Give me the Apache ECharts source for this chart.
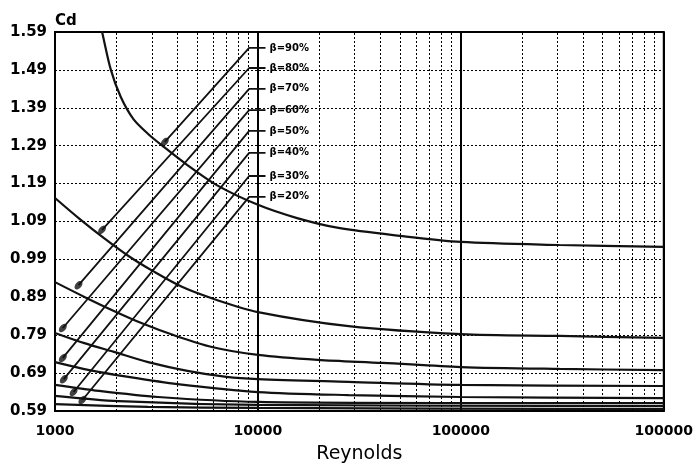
<!DOCTYPE html>
<html><head><meta charset="utf-8">
<script src="https://cdn.jsdelivr.net/npm/echarts@6/dist/echarts.min.js"></script>
<style>html,body{margin:0;padding:0;background:#fff}#c{width:696px;height:470px}</style>
</head><body><div id="c"></div>
<script>
// ---- axis ticks ----
const xTickValues = [1000, 10000, 100000, 1000000];
const xTickLabels = ['1000', '10000', '100000', '100000'];
const yTickLabels = ['0.59','0.69','0.79','0.89','0.99','1.09','1.19','1.29','1.39','1.49','1.59'];
const betaLabels = ['β=90%','β=80%','β=70%','β=60%','β=50%','β=40%','β=30%','β=20%'];

// ---- Cd curves (Reynolds, Cd) ----
const re90 = [1650, 1706, 1885, 2107, 2435, 2877, 3399, 4489, 6268, 10000, 15600, 24950, 50200, 100000, 306000, 1000000];
const cd90 = [1.62, 1.59, 1.49, 1.419, 1.360, 1.321, 1.289, 1.239, 1.186, 1.134, 1.099, 1.073, 1.052, 1.036, 1.028, 1.023];
const re80 = [1000, 1321, 1744, 2302, 3043, 4247, 6268, 10000, 28000, 100000, 306000, 1000000];
const cd80 = [1.152, 1.097, 1.046, 0.999, 0.959, 0.917, 0.883, 0.851, 0.814, 0.793, 0.788, 0.783];
const re70 = [1000, 1396, 1950, 2722, 3802, 5930, 10000, 19700, 41100, 100000, 306000, 1000000];
const cd70 = [0.930, 0.891, 0.854, 0.820, 0.791, 0.759, 0.738, 0.725, 0.717, 0.706, 0.701, 0.698];
const re60 = [1000, 1396, 1950, 2877, 4489, 7000, 10000, 28000, 100000, 1000000];
const cd60 = [0.796, 0.769, 0.746, 0.719, 0.696, 0.680, 0.674, 0.667, 0.659, 0.656];
const re50 = [1000, 1476, 2302, 4015, 10000, 28000, 100000, 1000000];
const cd50 = [0.719, 0.698, 0.680, 0.661, 0.640, 0.632, 0.627, 0.624];
const re40 = [1000, 1649, 3215, 10000, 100000, 1000000];
const cd40 = [0.659, 0.643, 0.627, 0.614, 0.611, 0.611];
const re30 = [1000, 2061, 10000, 1000000];
const cd30 = [0.630, 0.616, 0.606, 0.603];
const re20 = [1000, 2877, 10000, 1000000];
const cd20 = [0.608, 0.601, 0.598, 0.595];

// ---- beta guide lines ----
const guideStartRe = [3476, 1706, 1306, 1093, 1093, 1105, 1235, 1365];
const guideStartCd = [1.300, 1.068, 0.922, 0.809, 0.730, 0.674, 0.640, 0.619];
const guideKneeRe = 9050;
const guideEndRe = 10900;
const guideKneeCd = [1.548, 1.495, 1.440, 1.384, 1.329, 1.271, 1.210, 1.155];

const curves = [[re90,cd90],[re80,cd80],[re70,cd70],[re60,cd60],[re50,cd50],[re40,cd40],[re30,cd30],[re20,cd20]];

const minorRe = [];
[1000, 10000, 100000].forEach(d => { for (let k = 2; k <= 9; k++) minorRe.push(d * k); });

const FONT = 'DejaVu Sans';
const series = [];
curves.forEach((c, i) => {
  const s = {
    type: 'line', name: 'curve' + i, symbol: 'none', smooth: 0.3,
    lineStyle: { color: '#111', width: 2.2 }, clip: true,
    data: c[0].map((r, j) => [r, c[1][j]]), z: 3
  };
  if (i === 0) {
    s.markLine = {
      silent: true, symbol: ['none', 'none'], label: { show: false },
      lineStyle: { type: [2, 2], color: '#000', width: 1 },
      data: minorRe.map(v => ({ xAxis: v })), animation: false
    };
  }
  series.push(s);
});
guideKneeCd.forEach((kc, i) => {
  series.push({
    type: 'line', symbol: 'none', lineStyle: { color: '#111', width: 1.8 }, z: 4,
    data: [[guideStartRe[i], guideStartCd[i]], [guideKneeRe, kc], [guideEndRe, kc]],
    endLabel: { show: true, formatter: betaLabels[i], distance: 4, fontFamily: FONT, fontSize: 10, fontWeight: 'bold', color: '#000' }
  });
});
series.push({
  type: 'scatter', symbol: 'circle', symbolSize: [6, 10], symbolRotate: 139, z: 5,
  itemStyle: { color: '#111' },
  data: guideStartRe.map((r, i) => [r, guideStartCd[i]])
});

const chart = echarts.init(document.getElementById('c'));
chart.setOption({
  animation: false,
  backgroundColor: '#fff',
  grid: { left: 55, right: 29, top: 32, bottom: 59, show: true, borderColor: '#000', borderWidth: 2 },
  xAxis: {
    type: 'log', logBase: 10, min: 1000, max: 1000000,
    axisLine: { show: true, lineStyle: { color: '#000', width: 2 } },
    axisTick: { show: false },
    axisLabel: {
      margin: 13, fontFamily: FONT, fontSize: 14, fontWeight: 'bold', color: '#000',
      formatter: v => { const idx = xTickValues.findIndex(t => Math.abs(Math.log10(t) - Math.log10(v)) < 1e-6); return idx >= 0 ? xTickLabels[idx] : ''; }
    },
    splitLine: { show: true, lineStyle: { color: '#000', width: 2 } },
    name: 'Reynolds', nameLocation: 'middle', nameGap: 34,
    nameTextStyle: { fontFamily: FONT, fontSize: 19, color: '#000' }
  },
  yAxis: {
    type: 'value', min: 0.59, max: 1.59, interval: 0.1,
    axisLine: { show: true, lineStyle: { color: '#000', width: 2 } },
    axisTick: { show: false },
    axisLabel: {
      margin: 8, fontFamily: FONT, fontSize: 15, fontWeight: 'bold', color: '#000',
      formatter: v => { const idx = Math.round((v - 0.59) / 0.1); return (Math.abs(v - (0.59 + idx * 0.1)) < 1e-6) ? yTickLabels[idx] : ''; }
    },
    splitLine: { show: true, lineStyle: { color: '#000', width: 1, type: [2, 2] } },
    name: 'Cd', nameLocation: 'end', nameGap: 3,
    nameTextStyle: { fontFamily: FONT, fontSize: 15, fontWeight: 'bold', color: '#000', align: 'left' }
  },
  series: series
});
</script></body></html>
